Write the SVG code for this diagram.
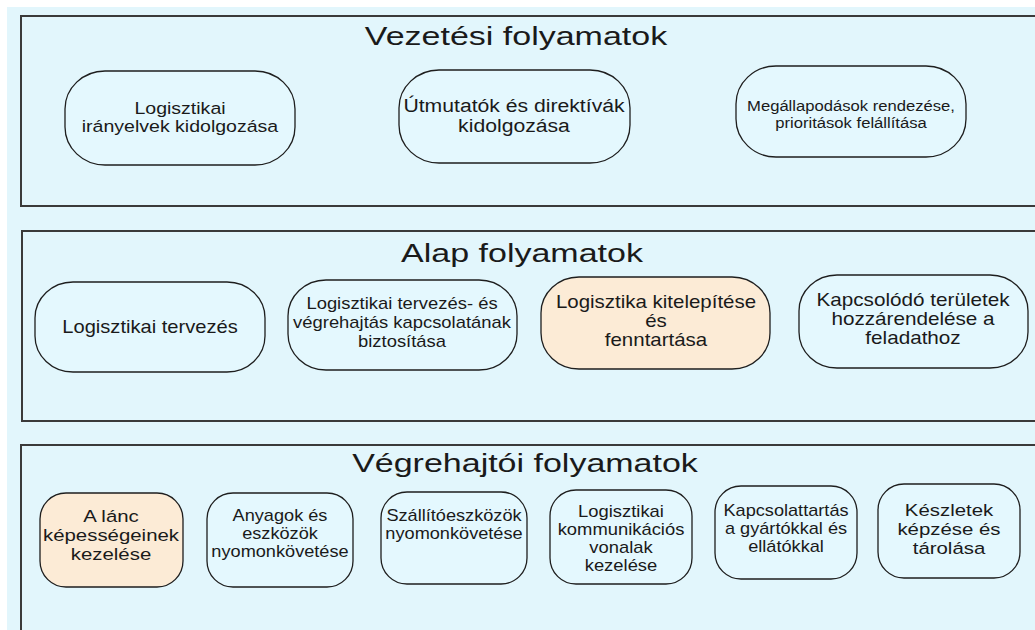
<svg xmlns="http://www.w3.org/2000/svg" width="1035" height="630" viewBox="0 0 1035 630">
<style>
.bg{fill:#E2F6FC}
.panel{fill:#E2F6FC;stroke:#3a3a3a;stroke-width:2}
.box{fill:#E4F8FE;stroke:#1e1e1e;stroke-width:1.3}
.hl{fill:#FCEBD6;stroke:#1e1e1e;stroke-width:1.3}
text{font-family:"Liberation Sans",Arial,sans-serif;fill:#1a1a1a;text-anchor:middle}
</style>
<rect x="0" y="0" width="1035" height="630" fill="#ffffff"/>
<rect class="bg" x="7" y="7" width="1028" height="623"/>

<g id="panel-vezetesi">
<rect class="panel" x="21" y="16" width="1030" height="190"/>
<text transform="translate(516 0) scale(1.36 1)" font-size="25" x="0" y="45">Vezetési folyamatok</text>
</g>
<g id="panel-alap">
<rect class="panel" x="22" y="231" width="1030" height="190"/>
<text transform="translate(522 0) scale(1.36 1)" font-size="25" x="0" y="262">Alap folyamatok</text>
</g>
<g id="panel-vegrehajtoi">
<rect class="panel" x="21" y="445" width="1030" height="200"/>
<text transform="translate(525 0) scale(1.36 1)" font-size="25" x="0" y="472">Végrehajtói folyamatok</text>
</g>

<g id="connectors"></g>

<g id="n-iranyelvek">
<rect class="box" x="65" y="71" width="230" height="94" rx="40" ry="38"/>
<text transform="translate(180 0) scale(1.15 1)" font-size="17"><tspan x="0" y="114">Logisztikai</tspan><tspan x="0" y="132">irányelvek kidolgozása</tspan></text>
</g>
<g id="n-utmutatok">
<rect class="box" x="399" y="70" width="231" height="93" rx="40" ry="38"/>
<text transform="translate(514 0) scale(1.19 1)" font-size="17.8"><tspan x="0" y="112">Útmutatók és direktívák</tspan><tspan x="0" y="132">kidolgozása</tspan></text>
</g>
<g id="n-megallapodasok">
<rect class="box" x="736" y="66" width="230" height="91" rx="40" ry="38"/>
<text transform="translate(851 0) scale(1.08 1)" font-size="15.4"><tspan x="0" y="111">Megállapodások rendezése,</tspan><tspan x="0" y="128">prioritások felállítása</tspan></text>
</g>

<g id="n-tervezes">
<rect class="box" x="35" y="282" width="230" height="90" rx="38" ry="36"/>
<text transform="translate(150 0) scale(1.15 1)" font-size="17.5" x="0" y="333">Logisztikai tervezés</text>
</g>
<g id="n-kapcsolat">
<rect class="box" x="288" y="280" width="229" height="90" rx="38" ry="36"/>
<text transform="translate(402 0) scale(1.15 1)" font-size="16"><tspan x="0" y="309">Logisztikai tervezés- és</tspan><tspan x="0" y="328">végrehajtás kapcsolatának</tspan><tspan x="0" y="347">biztosítása</tspan></text>
</g>
<g id="n-kitelepites">
<rect class="hl" x="541" y="277" width="229" height="92" rx="38" ry="36"/>
<text transform="translate(656 0) scale(1.15 1)" font-size="17.8"><tspan x="0" y="308">Logisztika kitelepítése</tspan><tspan x="0" y="327">és</tspan><tspan x="0" y="346">fenntartása</tspan></text>
</g>
<g id="n-teruletek">
<rect class="box" x="799" y="275" width="229" height="93" rx="38" ry="36"/>
<text transform="translate(913 0) scale(1.15 1)" font-size="18"><tspan x="0" y="306">Kapcsolódó területek</tspan><tspan x="0" y="325">hozzárendelése a</tspan><tspan x="0" y="344">feladathoz</tspan></text>
</g>

<g id="n-lanc">
<rect class="hl" x="40" y="493" width="143" height="94" rx="26" ry="26"/>
<text transform="translate(111 0) scale(1.2 1)" font-size="17"><tspan x="0" y="522">A lánc</tspan><tspan x="0" y="541">képességeinek</tspan><tspan x="0" y="560">kezelése</tspan></text>
</g>
<g id="n-anyagok">
<rect class="box" x="207" y="493" width="146" height="94" rx="26" ry="26"/>
<text transform="translate(280 0) scale(1.15 1)" font-size="15.8"><tspan x="0" y="521">Anyagok és</tspan><tspan x="0" y="539">eszközök</tspan><tspan x="0" y="557">nyomonkövetése</tspan></text>
</g>
<g id="n-szallito">
<rect class="box" x="381" y="492" width="146" height="92" rx="26" ry="26"/>
<text transform="translate(454 0) scale(1.15 1)" font-size="15.8"><tspan x="0" y="521">Szállítóeszközök</tspan><tspan x="0" y="539">nyomonkövetése</tspan></text>
</g>
<g id="n-kommunikacios">
<rect class="box" x="550" y="490" width="142" height="94" rx="26" ry="26"/>
<text transform="translate(621 0) scale(1.15 1)" font-size="16"><tspan x="0" y="517">Logisztikai</tspan><tspan x="0" y="535">kommunikációs</tspan><tspan x="0" y="553">vonalak</tspan><tspan x="0" y="571">kezelése</tspan></text>
</g>
<g id="n-kapcsolattartas">
<rect class="box" x="715" y="486" width="142" height="93" rx="26" ry="26"/>
<text transform="translate(786 0) scale(1.15 1)" font-size="15.8"><tspan x="0" y="516">Kapcsolattartás</tspan><tspan x="0" y="534">a gyártókkal és</tspan><tspan x="0" y="552">ellátókkal</tspan></text>
</g>
<g id="n-keszletek">
<rect class="box" x="878" y="484" width="142" height="94" rx="26" ry="26"/>
<text transform="translate(949 0) scale(1.2 1)" font-size="17"><tspan x="0" y="516">Készletek</tspan><tspan x="0" y="535">képzése és</tspan><tspan x="0" y="554">tárolása</tspan></text>
</g>
</svg>
